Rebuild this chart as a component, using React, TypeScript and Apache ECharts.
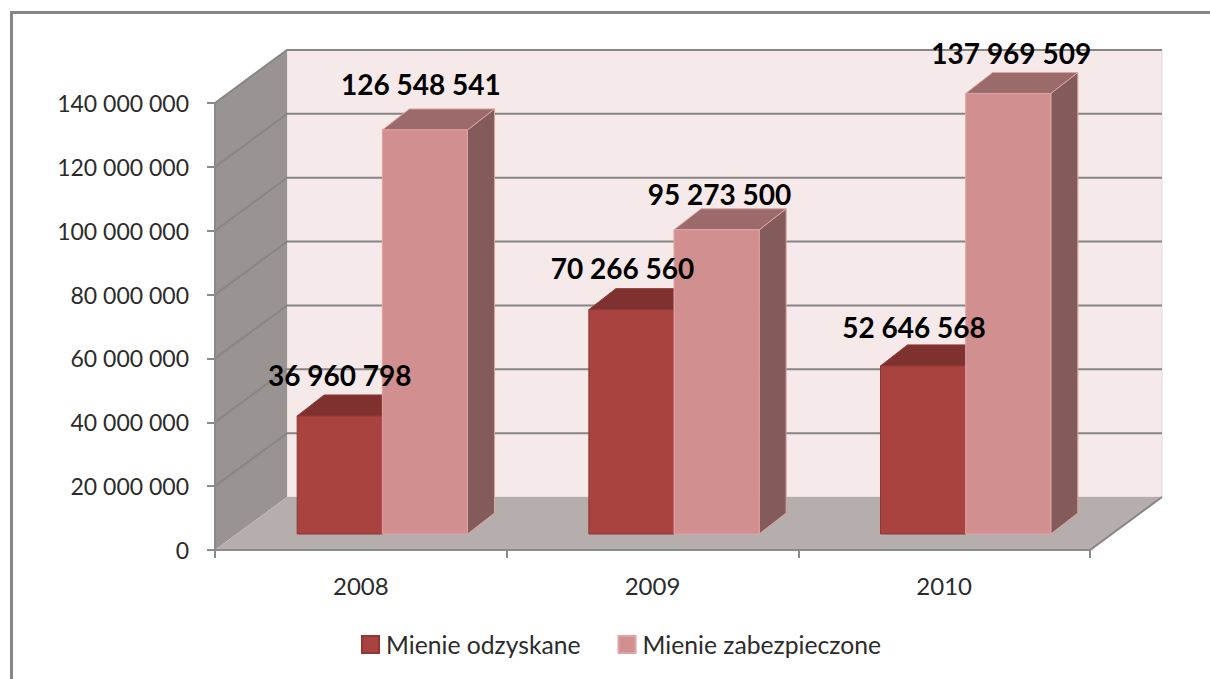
import React, { useEffect, useRef } from "react";
import * as echarts from "echarts";

const categories = ["2008", "2009", "2010"];
const seriesNames = ["Mienie odzyskane", "Mienie zabezpieczone"];
const odzyskane = [36960798, 70266560, 52646568];
const zabezpieczone = [126548541, 95273500, 137969509];
const axisTicks = [0, 20000000, 40000000, 60000000, 80000000, 100000000, 120000000, 140000000];

const FONT = "Lato";
const WALL_DX = 72;
const WALL_DY = -53;
const BAR_DX = 21.5;
const BAR_DY = -16;
const BAR_SIDE_DX = 27;
const BAR_SIDE_DY = -21;
const BAR_BAND = 0.292;

const groupLabel = (v: number) => String(v).replace(/\B(?=(\d{3})+(?!\d))/g, " ");

const redStyle = { front: "#A9433F", top: "#7F3130", side: "#6E2C2A", edge: "#8E3835" };
const pinkStyle = { front: "#D28F8F", top: "#9B6B6B", side: "#835B5B", edge: "#E0A3A3" };

// label nudges: [dx, dy] from the bar's front-top centre
const labelNudge = [
  [[0, -41], [-9, -42], [-9, -39]],
  [[-4, -46], [3, -36], [3, -40]],
];

function poly(points: number[][], fill: string, stroke?: string, lineWidth = 1) {
  return {
    type: "polygon",
    shape: { points },
    style: { fill, stroke: stroke || "none", lineWidth },
  };
}

function renderWalls(params: any, api: any) {
  const c = params.coordSys;
  const xl = c.x;
  const xr = c.x + c.width;
  const yb = c.y + c.height;
  const yt = c.y;
  return {
    type: "group",
    children: [
      poly([[xl + WALL_DX, yt + WALL_DY], [xr + WALL_DX, yt + WALL_DY], [xr + WALL_DX, yb + WALL_DY], [xl + WALL_DX, yb + WALL_DY]], "#F5E9E9", "#E3D9D9"),
      poly([[xl, yb], [xl, yt], [xl + WALL_DX, yt + WALL_DY], [xl + WALL_DX, yb + WALL_DY]], "#999392"),
      poly([[xl, yb], [xr, yb], [xr + WALL_DX, yb + WALL_DY], [xl + WALL_DX, yb + WALL_DY]], "#B6ADAD"),
    ],
  };
}

function renderGridLine(params: any, api: any) {
  const c = params.coordSys;
  const xl = c.x;
  const xr = c.x + c.width;
  const y = api.coord([0, api.value(1)])[1];
  const isFloor = api.value(1) === 0;
  return {
    type: "polyline",
    shape: {
      points: isFloor
        ? [[xl, y], [xr, y], [xr + WALL_DX, y + WALL_DY]]
        : [[xl, y], [xl + WALL_DX, y + WALL_DY], [xr + WALL_DX, y + WALL_DY]],
    },
    style: { fill: "none", stroke: "#888685", lineWidth: 2 },
  };
}

function makeBarRenderer(sideIndex: number, st: typeof redStyle) {
  return (params: any, api: any) => {
    const band = api.size([1, 0])[0];
    const w = band * BAR_BAND;
    const cx = api.coord([api.value(0), 0])[0];
    const x0 = cx + BAR_DX + (sideIndex - 1) * w;
    const x1 = x0 + w;
    const yb = api.coord([api.value(0), 0])[1] + BAR_DY;
    const yt = api.coord([api.value(0), api.value(1)])[1] + BAR_DY;
    return {
      type: "group",
      children: [
        poly([[x1, yb], [x1, yt], [x1 + BAR_SIDE_DX, yt + BAR_SIDE_DY], [x1 + BAR_SIDE_DX, yb + BAR_SIDE_DY]], st.side, st.edge),
        poly([[x0, yt], [x1, yt], [x1 + BAR_SIDE_DX, yt + BAR_SIDE_DY], [x0 + BAR_SIDE_DX, yt + BAR_SIDE_DY]], st.top, st.edge),
        poly([[x0, yb], [x1, yb], [x1, yt], [x0, yt]], st.front, st.edge),
      ],
    };
  };
}

function makeLabelRenderer(sideIndex: number) {
  return (params: any, api: any) => {
    const idx = api.value(0);
    const band = api.size([1, 0])[0];
    const w = band * BAR_BAND;
    const p = api.coord([idx, api.value(1)]);
    const n = labelNudge[sideIndex][idx];
    return {
      type: "text",
      style: {
        x: p[0] + BAR_DX + (sideIndex - 0.5) * w + n[0],
        y: p[1] + BAR_DY + n[1],
        text: groupLabel(api.value(1)),
        align: "center",
        verticalAlign: "middle",
        fill: "#000000",
        font: `bold 28px ${FONT}`,
      },
    };
  };
}

const toData = (vals: number[]) => vals.map((v, i) => [i, v]);

export default function App() {
  const ref = useRef<HTMLDivElement>(null);
  useEffect(() => {
    document.body.style.margin = "0";
    document.body.style.overflow = "hidden";
    const chart = echarts.init(ref.current!, undefined, { renderer: "svg" });
    const textStyle = { color: "#2B2B2B", fontFamily: FONT };
    chart.setOption({
      animation: false,
      backgroundColor: "#FFFFFF",
      grid: { left: 215, right: 120, top: 103, bottom: 129 },
      xAxis: {
        type: "category",
        data: categories,
        z: 10,
        axisLine: { show: true, lineStyle: { color: "#8A8A8A", width: 2 } },
        axisTick: { show: true, length: 8, lineStyle: { color: "#8A8A8A", width: 2 } },
        axisLabel: { ...textStyle, fontSize: 24, margin: 23 },
        splitLine: { show: false },
      },
      yAxis: {
        type: "value",
        min: 0,
        max: 140000000,
        interval: 20000000,
        z: 10,
        axisLine: { show: true, lineStyle: { color: "#8A8A8A", width: 2 } },
        axisTick: { show: true, length: 8, lineStyle: { color: "#8A8A8A", width: 2 } },
        axisLabel: { ...textStyle, fontSize: 23, margin: 26, padding: [0, 0, 2, 0], formatter: (v: number) => groupLabel(v) },
        splitLine: { show: false },
      },
      legend: {
        data: seriesNames,
        left: 361,
        top: 632,
        padding: 0,
        icon: "rect",
        itemWidth: 17,
        itemHeight: 17,
        itemGap: 37,
        textStyle: { ...textStyle, fontSize: 24.7, padding: [0, 0, 0, 2] },
      },
      graphic: [
        {
          type: "polyline",
          shape: { points: [[11.5, 679], [11.5, 12.5], [1210, 12.5]] },
          style: { fill: "none", stroke: "#868686", lineWidth: 3 },
        },
      ],
      series: [
        { type: "custom", name: "walls", z: 1, silent: true, data: [[0, 0]], renderItem: renderWalls },
        { type: "custom", name: "grid", z: 2, silent: true, data: toData(axisTicks).map((d) => [0, d[1]]), renderItem: renderGridLine },
        {
          type: "custom",
          name: seriesNames[0],
          z: 3,
          data: toData(odzyskane),
          itemStyle: { color: redStyle.front, borderColor: redStyle.edge, borderWidth: 2 },
          renderItem: makeBarRenderer(0, redStyle),
        },
        {
          type: "custom",
          name: seriesNames[1],
          z: 4,
          data: toData(zabezpieczone),
          itemStyle: { color: pinkStyle.front, borderColor: pinkStyle.edge, borderWidth: 2 },
          renderItem: makeBarRenderer(1, pinkStyle),
        },
        { type: "custom", name: "labels0", z: 5, silent: true, data: toData(odzyskane), renderItem: makeLabelRenderer(0) },
        { type: "custom", name: "labels1", z: 5, silent: true, data: toData(zabezpieczone), renderItem: makeLabelRenderer(1) },
      ],
    });
    return () => chart.dispose();
  }, []);
  return <div ref={ref} style={{ width: 1210, height: 679 }} />;
}
